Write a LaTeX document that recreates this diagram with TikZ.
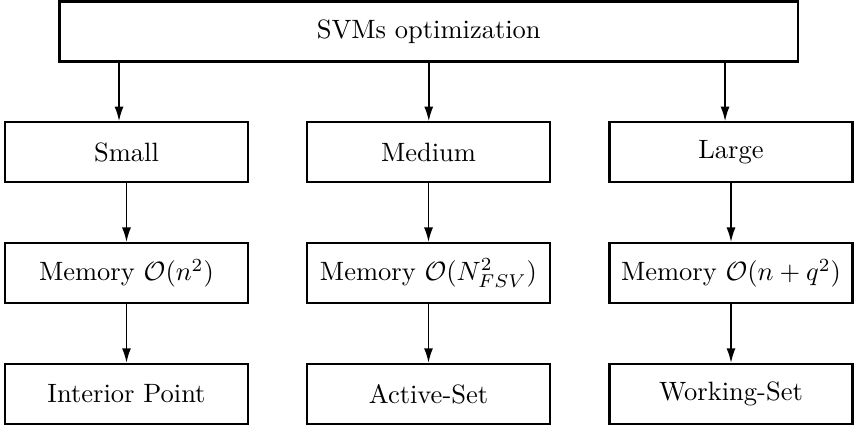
\documentclass[tikz,border=0pt]{standalone}
\usetikzlibrary{arrows.meta,calc}
\begin{document}
\begin{tikzpicture}[x=0.3774pt,y=-0.3774pt,
  box/.style={draw,line width=0.85pt,rectangle,minimum width=243*0.3774pt,minimum height=60*0.3774pt,inner sep=0pt},
  arr/.style={line width=0.6pt,-{Latex[length=5.5pt,width=3.4pt]}}]
\useasboundingbox (0,0) rectangle (854,428);
\node[box,minimum width=738.5*0.3774pt] (top) at (428.75,31.5) {SVMs optimization};
\node[box] (s2) at (126.5,152.3) {Small};
\node[box] (m2) at (428.5,152.3) {Medium};
\node[box] (l2) at (731,152.3) {Large};
\node[box] (s3) at (126.5,273.2) {Memory $\mathcal{O}(n^2)$};
\node[box] (m3) at (428.5,273.2) {Memory $\mathcal{O}(N_{FSV}^2)$};
\node[box] (l3) at (731,273.2) {Memory $\mathcal{O}(n+q^2)$};
\node[box] (s4) at (126.5,394) {Interior Point};
\node[box] (m4) at (428.5,394) {Active-Set};
\node[box] (l4) at (731,394) {Working-Set};
\coordinate (tl) at ($(top.south west)!0.0819!(top.south east)$);
\coordinate (tm) at ($(top.south west)!0.5!(top.south east)$);
\coordinate (tr) at ($(top.south west)!0.9!(top.south east)$);
\draw[arr] (tl) -- (tl |- s2.north);
\draw[arr] (tm) -- (tm |- m2.north);
\draw[arr] (tr) -- (tr |- l2.north);
\draw[arr] (s2) -- (s3);
\draw[arr] (m2) -- (m3);
\draw[arr] (l2) -- (l3);
\draw[arr] (s3) -- (s4);
\draw[arr] (m3) -- (m4);
\draw[arr] (l3) -- (l4);
\end{tikzpicture}
\end{document}
